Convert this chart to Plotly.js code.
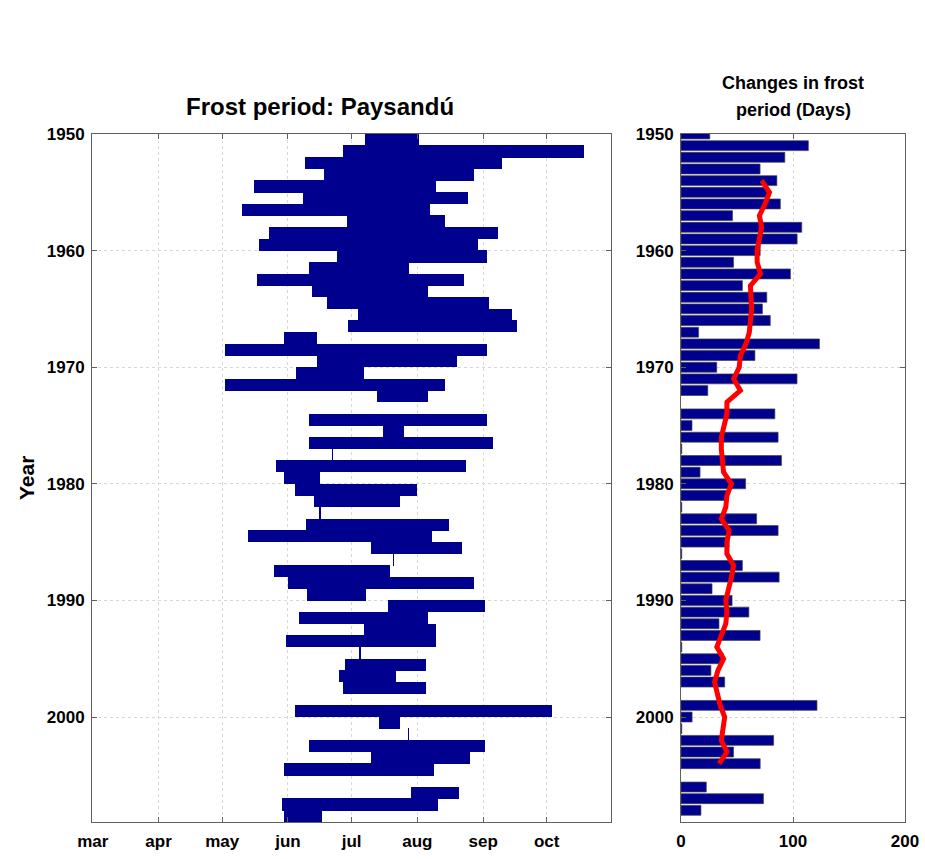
<!DOCTYPE html>
<html>
<head>
<meta charset="utf-8">
<script src="https://cdn.plot.ly/plotly-3.0.1.min.js"></script>
<style>html,body{margin:0;padding:0;background:#fff;}#chart{width:925px;height:859px;}</style>
</head>
<body>
<div id="chart"></div>
<script>
// Years of record
const years = [1950,1951,1952,1953,1954,1955,1956,1957,1958,1959,
               1960,1961,1962,1963,1964,1965,1966,1967,1968,1969,
               1970,1971,1972,1973,1974,1975,1976,1977,1978,1979,
               1980,1981,1982,1983,1984,1985,1986,1987,1988,1989,
               1990,1991,1992,1993,1994,1995,1996,1997,1998,1999,
               2000,2001,2002,2003,2004,2005,2006,2007,2008];
// First frost (day of year)
const firstFrost = [188.1,178.0,160.1,169.1,136.2,159.0,130.3,179.9,143.1,138.1,
                    175.0,162.1,137.2,163.1,170.2,185.1,180.1,150.2,122.3,165.9,
                    156.0,122.3,194.0,null,162.1,197.0,162.1,172.7,146.3,150.2,
                    155.2,164.2,166.7,160.3,133.3,191.0,201.4,145.2,152.1,161.2,
                    199.2,157.3,187.9,151.2,185.6,179.1,176.1,178.0,null,155.2,
                    195.0,208.5,162.1,191.0,150.2,null,210.1,149.3,150.2];
// Last frost (day of year)
const lastFrost = [213.8,291.7,252.8,239.7,221.8,236.9,219.0,225.9,250.9,241.8,
                   245.7,209.0,234.9,217.9,246.8,257.8,259.8,165.9,245.9,231.9,
                   187.9,225.9,217.9,null,245.9,206.8,248.8,173.4,236.0,167.2,
                   212.9,204.9,167.4,227.8,220.0,233.9,202.1,200.0,239.7,188.9,
                   244.8,217.9,221.8,221.8,186.3,217.0,202.8,217.0,null,276.6,
                   204.9,209.2,244.8,237.9,220.9,null,232.7,222.9,168.0];
// Smoothed frost-period length (red curve)
const trendYears = [1954,1955,1956,1957,1958,1959,1960,1961,1962,1963,
                    1964,1965,1966,1967,1968,1969,1970,1971,1972,1973,
                    1974,1975,1976,1977,1978,1979,1980,1981,1982,1983,
                    1984,1985,1986,1987,1988,1989,1990,1991,1992,1993,
                    1994,1995,1996,1997,1998,1999,2000,2001,2002,2003,2004];
const trendDays = [72,79,75,70,72,70,68,68,71,62,
                   63,63,62,61,58,53,52,47,53,41,
                   41,39,36,36,37,38,45,41,40,36,
                   43,41,41,47,45,42,40,41,40,36,
                   32,38,33,30,32,35,39,38,36,41,34];
// Month ticks (day of year of the 1st)
const monthTickVals = [60,91,121,152,182,213,244,274];
const monthTickText = ['mar','apr','may','jun','jul','aug','sep','oct'];
const yearTickVals = [1950,1960,1970,1980,1990,2000];
const dayTickVals = [0,100,200];

const duration = firstFrost.map((s,i) => (s===null||lastFrost[i]===null) ? null : +(lastFrost[i]-s).toFixed(1));
const rowCenter = years.map(y => y + 0.5);

const W = 925, H = 859;
const px = x => x / W;
const py = y => 1 - y / H;

const BLUE = '#00008f';
const FAM = 'Liberation Sans, Arial, sans-serif';
const tickFont = {family: FAM, size: 17, color: '#000', weight: 'bold'};

const traces = [
  {
    type: 'bar', orientation: 'h',
    y: rowCenter, x: duration, base: firstFrost, width: 1.04,
    marker: {color: BLUE, line: {width: 0}},
    xaxis: 'x', yaxis: 'y', hoverinfo: 'skip', showlegend: false
  },
  {
    type: 'bar', orientation: 'h',
    y: years, x: duration, width: 0.85,
    marker: {color: BLUE, line: {color: '#444', width: 0.7}},
    xaxis: 'x2', yaxis: 'y2', hoverinfo: 'skip', showlegend: false
  },
  {
    type: 'scatter', mode: 'lines',
    y: trendYears, x: trendDays,
    line: {color: '#ff0000', width: 5},
    xaxis: 'x2', yaxis: 'y2', hoverinfo: 'skip', showlegend: false
  }
];

const axisCommon = {
  showline: true, linecolor: '#606060', linewidth: 1, mirror: 'allticks',
  ticks: 'inside', ticklen: 5, tickcolor: '#606060',
  showgrid: true, gridcolor: '#d8d8d8', griddash: 'dot', gridwidth: 1,
  zeroline: false, tickfont: tickFont, fixedrange: true
};

const layout = {
  width: W, height: H,
  margin: {l: 0, r: 0, t: 0, b: 0},
  paper_bgcolor: '#fff', plot_bgcolor: '#fff',
  barmode: 'overlay', bargap: 0,
  xaxis: Object.assign({}, axisCommon, {
    domain: [px(92), px(611)], range: [59.6, 304.3],
    tickvals: monthTickVals, ticktext: monthTickText, anchor: 'y',
    ticklabelstandoff: 4
  }),
  yaxis: Object.assign({}, axisCommon, {
    domain: [py(822), py(134)], range: [2009, 1950],
    tickvals: yearTickVals, anchor: 'x', ticklabelstandoff: 3
  }),
  xaxis2: Object.assign({}, axisCommon, {
    domain: [px(681), px(905)], range: [0, 200],
    tickvals: dayTickVals, anchor: 'y2', ticklabelstandoff: 4
  }),
  yaxis2: Object.assign({}, axisCommon, {
    domain: [py(822), py(134)], range: [2009, 1950],
    tickvals: yearTickVals, anchor: 'x2', ticklabelstandoff: 3
  }),
  annotations: [
    {text: 'Frost period: Paysandú', xref: 'paper', yref: 'paper', x: px(320), y: py(107),
     xanchor: 'center', yanchor: 'middle', showarrow: false,
     font: {family: FAM, size: 24, color: '#000', weight: 'bold'}},
    {text: 'Changes in frost', xref: 'paper', yref: 'paper', x: px(793), y: py(83),
     xanchor: 'center', yanchor: 'middle', showarrow: false,
     font: {family: FAM, size: 18, color: '#000', weight: 'bold'}},
    {text: 'period (Days)', xref: 'paper', yref: 'paper', x: px(793), y: py(110),
     xanchor: 'center', yanchor: 'middle', showarrow: false,
     font: {family: FAM, size: 18, color: '#000', weight: 'bold'}},
    {text: 'Year', xref: 'paper', yref: 'paper', x: px(27), y: py(478), textangle: -90,
     xanchor: 'center', yanchor: 'middle', showarrow: false,
     font: {family: FAM, size: 21, color: '#000', weight: 'bold'}}
  ]
};

Plotly.newPlot('chart', traces, layout, {displayModeBar: false, staticPlot: true});
</script>
</body>
</html>
